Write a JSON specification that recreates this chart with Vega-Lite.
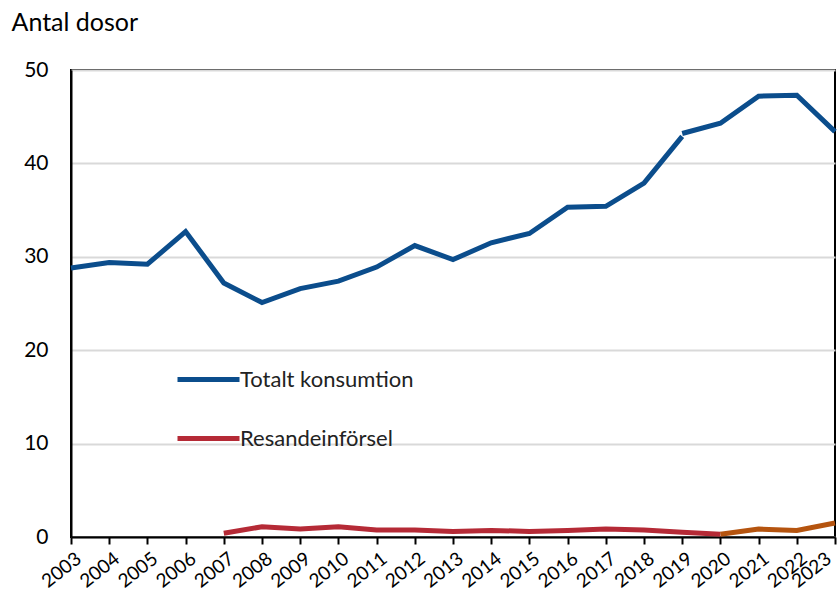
{
  "$schema": "https://vega.github.io/schema/vega-lite/v6.json",
  "autosize": "none",
  "padding": {"left": 71, "top": 70, "right": 4, "bottom": 64},
  "width": 764,
  "height": 467,
  "background": "white",
  "config": {
    "font": "Lato",
    "view": {"stroke": "black", "strokeWidth": 2},
    "axis": {"labelFont": "Lato", "titleFont": "Lato", "labelColor": "black", "titleColor": "black"}
  },
  "data": {
    "values": [
      {"year": 2003, "value": 28.8, "series": "Totalt konsumtion"},
      {"year": 2004, "value": 29.4, "series": "Totalt konsumtion"},
      {"year": 2005, "value": 29.2, "series": "Totalt konsumtion"},
      {"year": 2006, "value": 32.7, "series": "Totalt konsumtion"},
      {"year": 2007, "value": 27.2, "series": "Totalt konsumtion"},
      {"year": 2008, "value": 25.1, "series": "Totalt konsumtion"},
      {"year": 2009, "value": 26.6, "series": "Totalt konsumtion"},
      {"year": 2010, "value": 27.4, "series": "Totalt konsumtion"},
      {"year": 2011, "value": 28.9, "series": "Totalt konsumtion"},
      {"year": 2012, "value": 31.2, "series": "Totalt konsumtion"},
      {"year": 2013, "value": 29.7, "series": "Totalt konsumtion"},
      {"year": 2014, "value": 31.5, "series": "Totalt konsumtion"},
      {"year": 2015, "value": 32.5, "series": "Totalt konsumtion"},
      {"year": 2016, "value": 35.3, "series": "Totalt konsumtion"},
      {"year": 2017, "value": 35.4, "series": "Totalt konsumtion"},
      {"year": 2018, "value": 37.9, "series": "Totalt konsumtion"},
      {"year": 2019, "value": 42.9, "series": "Totalt konsumtion"},
      {"year": 2019, "value": 43.2, "series": "Totalt konsumtion (ny)"},
      {"year": 2020, "value": 44.3, "series": "Totalt konsumtion (ny)"},
      {"year": 2021, "value": 47.2, "series": "Totalt konsumtion (ny)"},
      {"year": 2022, "value": 47.3, "series": "Totalt konsumtion (ny)"},
      {"year": 2023, "value": 43.4, "series": "Totalt konsumtion (ny)"},
      {"year": 2007, "value": 0.4, "series": "Resandeinförsel"},
      {"year": 2008, "value": 1.1, "series": "Resandeinförsel"},
      {"year": 2009, "value": 0.85, "series": "Resandeinförsel"},
      {"year": 2010, "value": 1.1, "series": "Resandeinförsel"},
      {"year": 2011, "value": 0.75, "series": "Resandeinförsel"},
      {"year": 2012, "value": 0.75, "series": "Resandeinförsel"},
      {"year": 2013, "value": 0.6, "series": "Resandeinförsel"},
      {"year": 2014, "value": 0.7, "series": "Resandeinförsel"},
      {"year": 2015, "value": 0.6, "series": "Resandeinförsel"},
      {"year": 2016, "value": 0.7, "series": "Resandeinförsel"},
      {"year": 2017, "value": 0.85, "series": "Resandeinförsel"},
      {"year": 2018, "value": 0.75, "series": "Resandeinförsel"},
      {"year": 2019, "value": 0.5, "series": "Resandeinförsel"},
      {"year": 2020, "value": 0.3, "series": "Resandeinförsel"},
      {"year": 2020, "value": 0.3, "series": "Resandeinförsel (ny)"},
      {"year": 2021, "value": 0.85, "series": "Resandeinförsel (ny)"},
      {"year": 2022, "value": 0.7, "series": "Resandeinförsel (ny)"},
      {"year": 2023, "value": 1.5, "series": "Resandeinförsel (ny)"}
    ]
  },
  "mark": {"type": "line", "strokeWidth": 5, "strokeJoin": "miter", "clip": false},
  "encoding": {
    "x": {
      "field": "year",
      "type": "quantitative",
      "scale": {"domain": [2003, 2023], "nice": false, "zero": false},
      "axis": {
        "values": [2003, 2004, 2005, 2006, 2007, 2008, 2009, 2010, 2011, 2012, 2013, 2014, 2015, 2016, 2017, 2018, 2019, 2020, 2021, 2022, 2023],
        "format": "d",
        "title": null,
        "grid": false,
        "domainColor": "black",
        "domainWidth": 2,
        "tickColor": "black",
        "tickWidth": 2,
        "tickSize": 7,
        "labelAngle": -38,
        "labelAlign": "right",
        "labelBaseline": "top",
        "labelFontSize": 19,
        "labelPadding": 5,
        "labelOffset": {"condition": {"test": "datum.value == 2023", "value": -12}, "value": 2},
        "labelOverlap": false,
        "labelBound": false,
        "labelFlush": false
      }
    },
    "y": {
      "field": "value",
      "type": "quantitative",
      "scale": {"domain": [0, 50], "nice": false},
      "axis": {
        "values": [0, 10, 20, 30, 40, 50],
        "title": "Antal dosor",
        "titleAngle": 0,
        "titleAlign": "left",
        "titleBaseline": "middle",
        "titleX": -60,
        "titleY": -48,
        "titleFontSize": 25,
        "titleFontWeight": "normal",
        "grid": true,
        "gridColor": "#d9d9d9",
        "gridWidth": 2,
        "domainColor": "black",
        "domainWidth": 2,
        "ticks": false,
        "labelFontSize": 21,
        "labelPadding": 23
      }
    },
    "color": {
      "field": "series",
      "type": "nominal",
      "scale": {
        "domain": ["Totalt konsumtion", "Totalt konsumtion (ny)", "Resandeinförsel", "Resandeinförsel (ny)"],
        "range": ["#0b4d8c", "#0b4d8c", "#b52a36", "#b5540f"]
      },
      "legend": {
        "values": ["Totalt konsumtion", "Resandeinförsel"],
        "title": null,
        "orient": "none",
        "legendX": 104,
        "legendY": 276,
        "symbolType": "stroke",
        "symbolSize": 3844,
        "symbolStrokeWidth": 5,
        "labelFontSize": 22,
        "labelLimit": 400,
        "labelColor": "#222222",
        "labelOffset": -2,
        "rowPadding": 14,
        "padding": 0
      }
    }
  }
}
